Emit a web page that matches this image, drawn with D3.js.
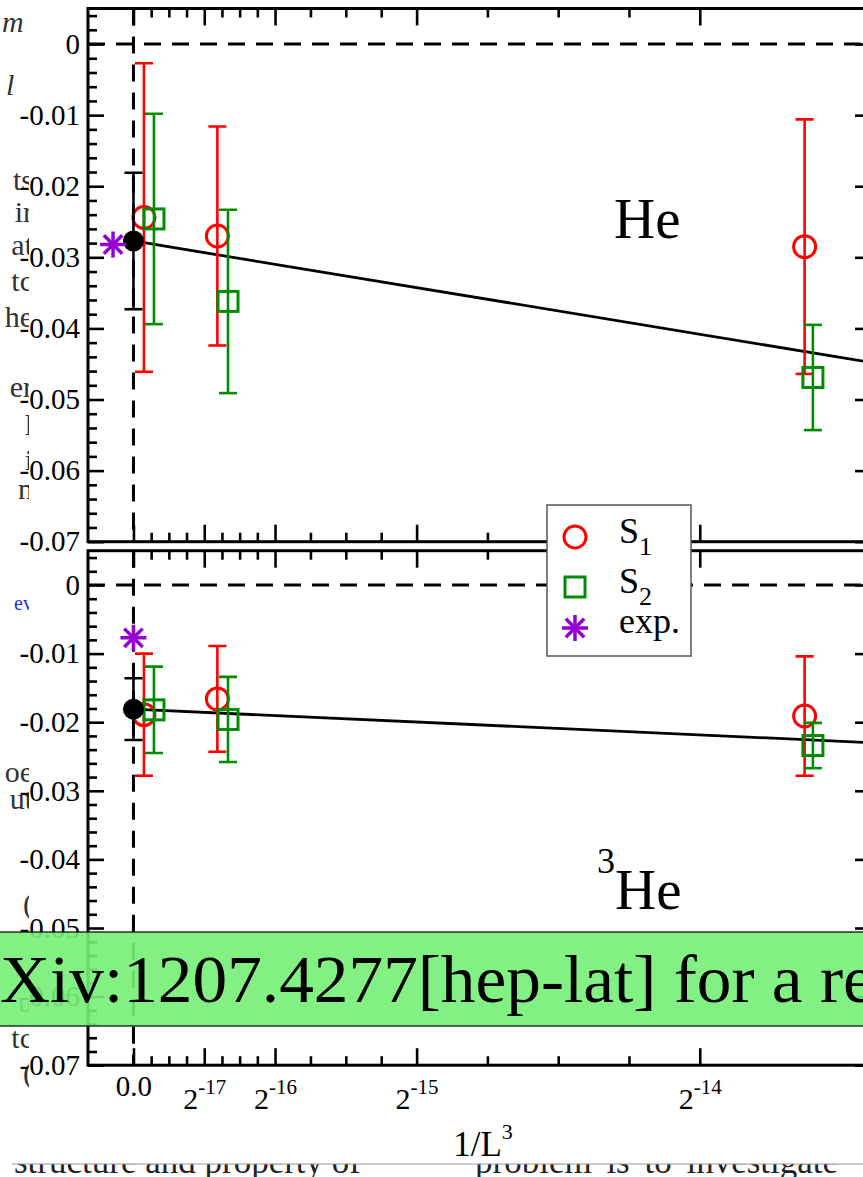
<!DOCTYPE html>
<html>
<head>
<meta charset="utf-8">
<script src="https://cdn.jsdelivr.net/npm/d3@7"></script>
<style>
  html, body { margin: 0; padding: 0; background: #fff; }
  svg { display: block; }
  text { font-family: "Liberation Serif", "Times New Roman", serif; }
</style>
</head>
<body>
<svg id="fig" width="863" height="1177"></svg>
<script>
// ---- data -------------------------------------------------------------
// x = 1/L^3 for L = 96, 48, 24 (S2 drawn with a small horizontal offset)
const xS1 = [1.1303e-6, 9.0422e-6, 7.2338e-5];
const xS2 = [2.21e-6, 1.019e-5, 7.323e-5];

// He
const heS1 = [-0.0244, -0.0270, -0.0285];
const heS1Err = [0.0217, 0.0154, 0.0179];
const heS2 = [-0.0246, -0.0362, -0.0469];
const heS2Err = [0.0148, 0.0129, 0.0074];
const heFit = [-0.0277];          // infinite-volume value
const heFitErr = [0.0096];
const heSlope = -215;             // d(ΔE)/d(1/L^3)
const heExpX = [-2.2e-6];
const heExp = [-0.0282];

// 3He
const he3S1 = [-0.0189, -0.0166, -0.0191];
const he3S1Err = [0.0089, 0.0077, 0.0087];
const he3S2 = [-0.0182, -0.0196, -0.0234];
const he3S2Err = [0.0063, 0.0062, 0.0033];
const he3Fit = [-0.0181];
const he3FitErr = [0.0045];
const he3Slope = -61.4;
const he3ExpX = [0];
const he3Exp = [-0.0077];

// axis ticks
const xMajor = [0, Math.pow(2, -17), Math.pow(2, -16), Math.pow(2, -15), Math.pow(2, -14)];
const xMajorExp = [null, -17, -16, -15, -14];
const yMajor = [0, -0.01, -0.02, -0.03, -0.04, -0.05, -0.06, -0.07];

const legendLabels = [["S", "1"], ["S", "2"], ["exp.", ""]];

// ---- setup ------------------------------------------------------------
const svg = d3.select("#fig");
const RED = "#ff0000", GREEN = "#008b00", VIOLET = "#9400d3";

svg.append("rect").attr("width", 863).attr("height", 1177).attr("fill", "#fff");

// neighbouring page text that shows at the left edge
svg.append("clipPath").attr("id", "margin").append("rect")
  .attr("x", 0).attr("y", 0).attr("width", 29).attr("height", 1160);
const pageText = svg.append("g").attr("fill", "#333").attr("font-size", 30)
  .attr("clip-path", "url(#margin)");
[["m", 2, 32, true], ["l", 6, 95, true]].forEach(d => {
  pageText.append("text").attr("x", d[1]).attr("y", d[2])
    .attr("font-style", d[3] ? "italic" : null).text(d[0]);
});
[["ts", 190], ["ir", 222], ["at", 255], ["tc", 291], ["he", 327], ["er", 397],
 ["l", 435], ["i", 470], ["n", 499], ["oe", 782], ["ut", 809], ["(", 914],
 ["u", 1012], ["tc", 1048], ["(", 1083]].forEach(d => {
  pageText.append("text").attr("x", 33).attr("y", d[1]).attr("text-anchor", "end").text(d[0]);
});
pageText.append("text").attr("x", 33).attr("y", 610).attr("text-anchor", "end")
  .attr("font-size", 20).attr("fill", "#2233ee").text("ev");

const x = d3.scaleLinear().domain([-4.9e-6, 7.96e-5]).range([88, 872]);
const X0 = 88, X1 = 872;

const panels = [
  { top: 8.5, bottom: 541.7, s1: heS1, s1e: heS1Err, s2: heS2, s2e: heS2Err,
    fit: heFit, fitE: heFitErr, slope: heSlope, expX: heExpX, exp: heExp },
  { top: 550.7, bottom: 1065.2, s1: he3S1, s1e: he3S1Err, s2: he3S2, s2e: he3S2Err,
    fit: he3Fit, fitE: he3FitErr, slope: he3Slope, expX: he3ExpX, exp: he3Exp }
];

const yMinor = d3.range(-0.07, 0.0041, 0.002).map(v => +v.toFixed(4))
  .filter(v => Math.abs(v * 100 - Math.round(v * 100)) > 1e-6);
const xMinor = [];
for (let i = 0; i < xMajor.length - 1; i++) {
  const step = (xMajor[i + 1] - xMajor[i]) / 4;
  for (let k = 1; k < 4; k++) xMinor.push(xMajor[i] + k * step);
}

function asterisk(g, cx, cy, r, color) {
  const a = g.append("g").attr("stroke", color).attr("stroke-width", 3.5);
  [0, 45, 90, 135].forEach(deg => {
    const t = deg * Math.PI / 180;
    a.append("line")
      .attr("x1", cx - r * Math.cos(t)).attr("y1", cy - r * Math.sin(t))
      .attr("x2", cx + r * Math.cos(t)).attr("y2", cy + r * Math.sin(t));
  });
}

function errBar(g, px, y, v, e, color) {
  const e1 = y(v + e), e2 = y(v - e);
  const b = g.append("g").attr("stroke", color).attr("stroke-width", 2.6).attr("fill", "none");
  b.append("line").attr("x1", px).attr("x2", px).attr("y1", e1).attr("y2", e2);
  b.append("line").attr("x1", px - 9).attr("x2", px + 9).attr("y1", e1).attr("y2", e1);
  b.append("line").attr("x1", px - 9).attr("x2", px + 9).attr("y1", e2).attr("y2", e2);
}

panels.forEach((p, i) => {
  const y = d3.scaleLinear().domain([-0.07, 0.005]).range([p.bottom, p.top]);
  const clipId = "clip" + i;
  svg.append("clipPath").attr("id", clipId).append("rect")
    .attr("x", X0).attr("y", p.top).attr("width", X1 - X0).attr("height", p.bottom - p.top);
  const g = svg.append("g").attr("clip-path", `url(#${clipId})`);

  // zero lines
  g.append("line").attr("x1", X0).attr("x2", X1).attr("y1", y(0)).attr("y2", y(0))
    .attr("stroke", "#000").attr("stroke-width", 3).attr("stroke-dasharray", "17,11");
  g.append("line").attr("x1", x(0)).attr("x2", x(0)).attr("y1", p.top).attr("y2", p.bottom)
    .attr("stroke", "#000").attr("stroke-width", 3).attr("stroke-dasharray", "17,11");

  // extrapolation line
  const fitLine = d3.line().x(d => x(d)).y(d => y(p.fit[0] + p.slope * d));
  g.append("path").datum([0, x.domain()[1]]).attr("d", fitLine)
    .attr("stroke", "#000").attr("stroke-width", 2.8).attr("fill", "none");

  // S1
  p.s1.forEach((v, k) => errBar(g, x(xS1[k]), y, v, p.s1e[k], RED));
  g.selectAll(null).data(p.s1).join("circle")
    .attr("cx", (d, k) => x(xS1[k])).attr("cy", d => y(d)).attr("r", 11)
    .attr("fill", "none").attr("stroke", RED).attr("stroke-width", 3);
  // S2
  p.s2.forEach((v, k) => errBar(g, x(xS2[k]), y, v, p.s2e[k], GREEN));
  g.selectAll(null).data(p.s2).join("rect")
    .attr("x", (d, k) => x(xS2[k]) - 10).attr("y", d => y(d) - 10)
    .attr("width", 20).attr("height", 20)
    .attr("fill", "none").attr("stroke", GREEN).attr("stroke-width", 3);
  // extrapolated value
  errBar(g, x(0), y, p.fit[0], p.fitE[0], "#000");
  g.append("circle").attr("cx", x(0)).attr("cy", y(p.fit[0])).attr("r", 10.5).attr("fill", "#000");
  // experiment
  p.exp.forEach((v, k) => asterisk(g, x(p.expX[k]), y(v), 13, VIOLET));

  // frame
  svg.append("rect").attr("x", X0).attr("y", p.top).attr("width", X1 - X0)
    .attr("height", p.bottom - p.top).attr("fill", "none")
    .attr("stroke", "#000").attr("stroke-width", 3);

  const axG = svg.append("g").attr("stroke-width", 2.6);
  // left axis (ticks inward, labels outside)
  const left = axG.append("g").attr("transform", `translate(${X0},0)`)
    .call(d3.axisLeft(y).tickValues(yMajor).tickSizeInner(-16).tickSizeOuter(0).tickPadding(8)
      .tickFormat(d => d === 0 ? "0" : d3.format(".2f")(d).replace("−", "-")));
  left.append("g").call(d3.axisLeft(y).tickValues(yMinor).tickSizeInner(-9).tickSizeOuter(0).tickFormat(""));
  // right axis
  const right = axG.append("g").attr("transform", `translate(${X1},0)`);
  right.call(d3.axisRight(y).tickValues(yMajor).tickSizeInner(-17).tickSizeOuter(0).tickFormat(""));
  right.append("g").call(d3.axisRight(y).tickValues(yMinor).tickSizeInner(-9).tickSizeOuter(0).tickFormat(""));
  // top & bottom axes (ticks inward)
  const topA = axG.append("g").attr("transform", `translate(0,${p.top})`);
  topA.call(d3.axisTop(x).tickValues(xMajor).tickSizeInner(-17).tickSizeOuter(0).tickFormat(""));
  topA.append("g").call(d3.axisTop(x).tickValues(xMinor).tickSizeInner(-9).tickSizeOuter(0).tickFormat(""));
  const botA = axG.append("g").attr("transform", `translate(0,${p.bottom})`);
  botA.call(d3.axisBottom(x).tickValues(xMajor).tickSizeInner(-17).tickSizeOuter(0).tickFormat(""));
  botA.append("g").call(d3.axisBottom(x).tickValues(xMinor).tickSizeInner(-9).tickSizeOuter(0).tickFormat(""));

  axG.selectAll(".domain").remove();
  axG.selectAll(".tick line").attr("stroke", "#000").attr("stroke-width", 2.6);
  left.selectAll(".tick text").attr("font-size", 29).attr("fill", "#000")
    .attr("font-family", "Liberation Serif, serif");

  // x tick labels on the lower panel
  if (i === 1) {
    botA.selectAll(".tick").filter(function () { return this.parentNode === botA.node(); })
      .each(function (d, k) {
        const t = d3.select(this).append("text").attr("fill", "#000")
          .attr("text-anchor", "middle").attr("font-family", "Liberation Serif, serif")
          .attr("stroke", "none");
        if (xMajorExp[k] === null) {
          t.attr("y", 31).attr("font-size", 29).text("0.0");
        } else {
          t.attr("y", 44).attr("font-size", 30);
          t.append("tspan").text("2");
          t.append("tspan").attr("dy", -15).attr("font-size", 21).text(String(xMajorExp[k]));
        }
      });
  }
});

// panel labels
svg.append("text").attr("x", 614).attr("y", 238).attr("font-size", 57).text("He");
const he3 = svg.append("text").attr("x", 597).attr("y", 909).attr("font-size", 57);
he3.append("tspan").attr("font-size", 36).attr("dy", -36).text("3");
he3.append("tspan").attr("dy", 36).text("He");

// x axis title
const xt = svg.append("text").attr("x", 483).attr("y", 1156).attr("text-anchor", "middle").attr("font-size", 35);
xt.append("tspan").text("1/L");
xt.append("tspan").attr("dy", -17).attr("font-size", 22).text("3");

// legend
const lg = svg.append("g");
lg.append("rect").attr("x", 547).attr("y", 505).attr("width", 144).attr("height", 151)
  .attr("fill", "#fff").attr("stroke", "#555").attr("stroke-width", 1.5);
lg.append("circle").attr("cx", 575).attr("cy", 537).attr("r", 11)
  .attr("fill", "none").attr("stroke", RED).attr("stroke-width", 3);
lg.append("rect").attr("x", 565).attr("y", 577).attr("width", 20).attr("height", 20)
  .attr("fill", "none").attr("stroke", GREEN).attr("stroke-width", 3);
asterisk(lg, 575, 628, 13, VIOLET);
[543, 593, 633].forEach((by, k) => {
  const t = lg.append("text").attr("x", 619).attr("y", by).attr("font-size", 36);
  t.append("tspan").text(legendLabels[k][0]);
  if (legendLabels[k][1]) t.append("tspan").attr("dy", 12).attr("font-size", 26).text(legendLabels[k][1]);
});

// banner across the lower panel
svg.append("rect").attr("x", -2).attr("y", 932).attr("width", 867).attr("height", 94)
  .attr("fill", "rgb(118,238,118)").attr("fill-opacity", 0.9)
  .attr("stroke", "#000").attr("stroke-width", 1.2);
const bannerFull = "arXiv:1207.4277[hep-lat] for a review";
const bt = svg.append("text").attr("font-size", 68).attr("font-family", "DejaVu Serif, serif")
  .attr("fill", "#000").text(bannerFull);
const w0 = bt.node().getSubStringLength(0, 2);
const w1 = bt.node().getSubStringLength(0, "arXiv:1207.4277[hep-lat] for a ".length);
const sx = 820 / (w1 - w0);
bt.attr("transform", `translate(${-w0 * sx},1002) scale(${sx},1)`);

// page text below the figure, partly hidden by the figure edge
svg.append("clipPath").attr("id", "below").append("rect")
  .attr("x", 0).attr("y", 1164).attr("width", 863).attr("height", 20);
const below = svg.append("g").attr("clip-path", "url(#below)").attr("font-size", 35).attr("fill", "#222");
below.append("text").attr("x", 14).attr("y", 1173).text("structure and property of");
below.append("text").attr("x", 475).attr("y", 1173).attr("word-spacing", 6).text("problem is to investigate");
svg.append("line").attr("x1", 12).attr("x2", 863).attr("y1", 1164).attr("y2", 1164)
  .attr("stroke", "#999").attr("stroke-width", 1);
</script>
</body>
</html>
